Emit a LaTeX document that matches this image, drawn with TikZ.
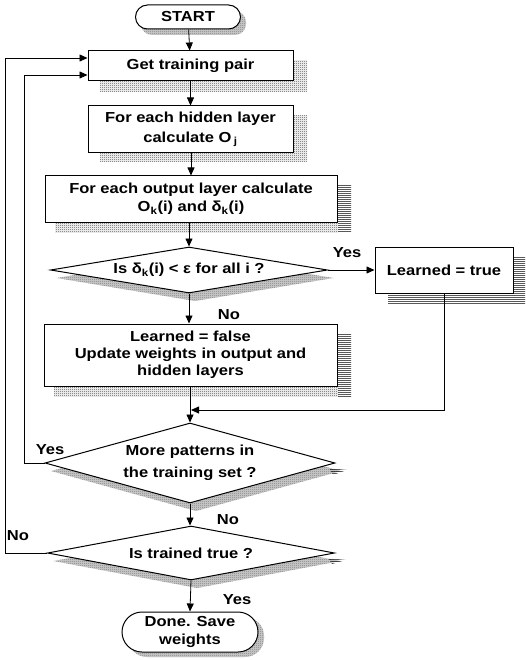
\documentclass[tikz,border=0pt]{standalone}
\usepackage{fontspec}
\setmainfont[FakeStretch=1.14]{Liberation Sans}
\usetikzlibrary{shapes.geometric,shapes.misc,arrows.meta,patterns}
\definecolor{shadgray}{gray}{0.8}
\pgfdeclarepatternformonly{denselines}{\pgfqpoint{0pt}{0pt}}{\pgfqpoint{1pt}{2.2pt}}{\pgfqpoint{1pt}{2.2pt}}%
  {\pgfpathrectangle{\pgfqpoint{0pt}{0pt}}{\pgfqpoint{1pt}{1.2pt}}\pgfusepath{fill}}
\pgfdeclarepatternformonly{speckle}{\pgfqpoint{0pt}{0pt}}{\pgfqpoint{2pt}{2pt}}{\pgfqpoint{2pt}{2pt}}%
  {\pgfpathrectangle{\pgfqpoint{0pt}{0pt}}{\pgfqpoint{1pt}{1pt}}%
   \pgfpathrectangle{\pgfqpoint{1pt}{1pt}}{\pgfqpoint{1pt}{1pt}}\pgfusepath{fill}}
\begin{document}
\begin{tikzpicture}[x=1pt,y=-1pt,
  every node/.style={font=\bfseries\fontsize{14.5}{18}\selectfont},
  stepbox/.style={draw, line width=1pt, fill=white, inner sep=0pt, align=center},
  term/.style={rounded rectangle, draw, line width=1pt, fill=white, inner sep=0pt, align=center},
  dec/.style={diamond, draw, line width=1pt, fill=white, inner sep=0pt, align=center},
  shadowc/.style={fill=shadgray, draw=none, postaction={pattern=speckle, pattern color=black!50}},
  boxshadow/.style={pattern=speckle, pattern color=black!70},
  hatch/.style={pattern=denselines, pattern color=black},
  conn/.style={line width=0.8pt},
  arr/.style={conn, -{Triangle[length=8pt,width=7pt]}},
  lbl/.style={inner sep=0pt}
]
\useasboundingbox (0,0) rectangle (526,660);

% shadows of diamonds and terminals (behind the shapes)
\path[shadowc, rounded corners=11pt] (141,11) rectangle (246,35);
\path[shadowc] (56.5,278) -- (195,255) -- (333.5,278) -- (195,301) -- cycle;
\path[shadowc] (51,471) -- (196,431) -- (341,471) -- (196,511) -- cycle;
\fill[hatch] (329,468) -- (347,470) -- (333,475) -- cycle;
\path[shadowc] (53.5,561) -- (197,534) -- (340.5,561) -- (197,588) -- cycle;
\fill[hatch] (328,558) -- (346,560) -- (332,564) -- cycle;
\path[shadowc, rounded corners=19pt] (128,617) rectangle (264,657);

% nodes
\node[term, minimum width=105pt, minimum height=24pt] (start) at (188,17) {START};
\node[stepbox, minimum width=205pt, minimum height=30pt] (get) at (190.5,66) {Get training pair};
\node[stepbox, minimum width=205pt, minimum height=47pt, font=\bfseries\fontsize{14.5}{20}\selectfont] (hidden) at (190.5,129.5)
  {For each hidden layer\\calculate O\,\textsubscript{j}};
\node[stepbox, minimum width=292pt, minimum height=46pt] (output) at (191,199)
  {For each output layer calculate\\O\textsubscript{k}(i) and δ\textsubscript{k}(i)};
\node[dec, minimum width=277pt, minimum height=46pt, shape aspect=6] (d1) at (189,270)
  {Is δ\textsubscript{k}(i) < ε for all i ?};
\node[stepbox, minimum width=138pt, minimum height=46pt] (true) at (444,270) {Learned = true};
\node[stepbox, minimum width=293pt, minimum height=62pt, font=\bfseries\fontsize{14.5}{17}\selectfont] (false) at (190.5,355)
  {Learned = false\\Update weights in output and\\hidden layers};
\node[dec, minimum width=290pt, minimum height=80pt, shape aspect=3.6, font=\bfseries\fontsize{14.5}{22}\selectfont] (d2) at (190,463)
  {More patterns in\\the training set ?};
\node[dec, minimum width=287pt, minimum height=54pt, shape aspect=6] (d3) at (191,553)
  {Is trained true ?};
\node[term, minimum width=136pt, minimum height=40pt] (done) at (190,632)
  {Done. Save\\weights};

% shadows of the boxes (strips outside the boxes)
\fill[boxshadow] (294,61) rectangle (307,92);
\fill[boxshadow] (100,82) rectangle (294,92);
\fill[boxshadow] (294,116) rectangle (307,162);
\fill[boxshadow] (100,154) rectangle (294,162);
\fill[boxshadow] (55,223) rectangle (338,232);
\fill[hatch] (338,185) rectangle (351,232);
\fill[hatch] (514,256) rectangle (525,303);
\fill[hatch] (388,294) rectangle (514,303);
\fill[boxshadow] (54,387) rectangle (338,396);
\fill[hatch] (338,333) rectangle (351,396);

% helper coordinates
\coordinate (g1) at ([yshift=8pt]get.west);
\coordinate (g2) at ([yshift=-9pt]get.west);
\coordinate (join) at (189,410);
\coordinate (c2) at (24,463);
\coordinate (c3) at (5,553);

% connectors
\draw[arr] (start) -- (get);
\draw[arr] (get) -- (hidden);
\draw[arr] (hidden.south -| output.north) -- (output.north);
\draw[arr] (output.south -| d1.north) -- (d1.north);
\draw[arr] (d1.east) -- (true.west);
\draw[arr] (d1.south) -- (d1.south |- false.north);
\draw[arr] (false.south -| d2.north) -- (d2.north);
\draw[arr] (true.south) |- ([xshift=2pt]join);
\draw[arr] (d2.south) -- (d3.north -| d2.south);
\draw[arr] (d3.south) -- (done.north);
\draw[arr] (d2.west) -- (c2) |- (g2);
\draw[arr] (d3.west) -- (c3) |- (g1);

% labels
\node[lbl] (y1) at (347,253) {Yes};
\node[lbl] (n1) at (229,315) {No};
\node[lbl] (y2) at (50,450) {Yes};
\node[lbl] (n2) at (228,520) {No};
\node[lbl] (n3) at (18,536) {No};
\node[lbl] (y3) at (237,600) {Yes};
\end{tikzpicture}
\end{document}
